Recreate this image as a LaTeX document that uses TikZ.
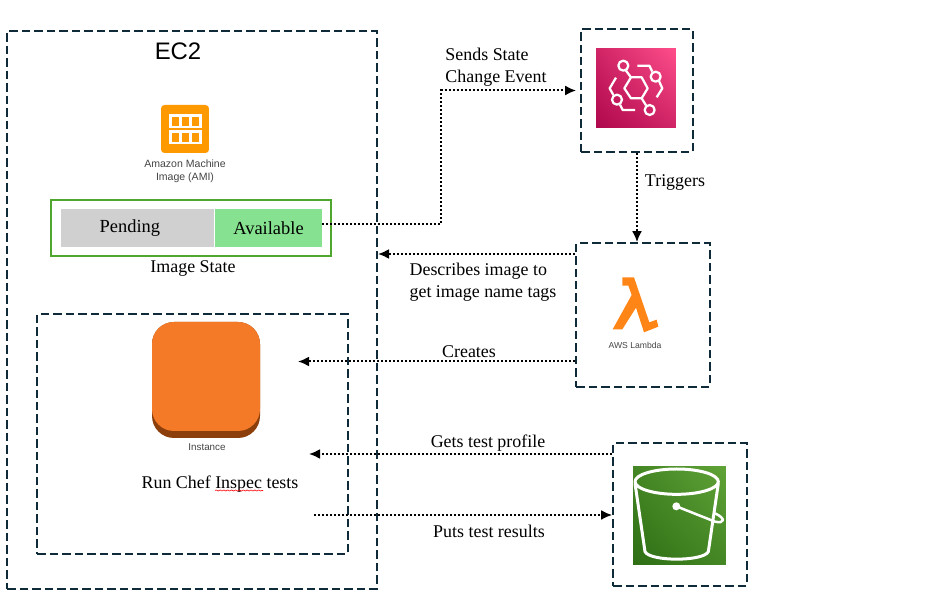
\documentclass[tikz,border=0pt]{standalone}
\usepackage{fontspec}
\setmainfont{Liberation Serif}
\newfontfamily\iconsans{Liberation Sans}
\usetikzlibrary{arrows.meta,decorations.pathmorphing,shadings}
\definecolor{boxline}{HTML}{0F2B3A}
\definecolor{amber}{HTML}{FF9900}
\definecolor{stategreen}{HTML}{4EA72E}
\definecolor{pendgrey}{HTML}{D0D0D0}
\definecolor{availgreen}{HTML}{86E290}
\definecolor{lambdaorange}{HTML}{FF8517}
\definecolor{ec2orange}{HTML}{F47A28}
\definecolor{ec2dark}{HTML}{8C3F0B}
\definecolor{pinklow}{HTML}{B0084D}
\definecolor{pinkhigh}{HTML}{FF4F8B}
\definecolor{s3low}{HTML}{2E6E15}
\definecolor{s3high}{HTML}{60A337}
\definecolor{icontext}{HTML}{444444}
\tikzset{
  dashbox/.style={draw=boxline,line width=0.035cm,dash pattern=on 0.17cm off 0.08cm,inner sep=0pt},
  flow/.style={-{Latex[length=2.2mm,width=2mm]},line width=0.04cm,dash pattern=on 0.04cm off 0.04cm,black},
  caption/.style={font=\fontsize{10.2}{12.5}\selectfont,inner sep=0pt,align=left},
  iconcap/.style={font=\iconsans\fontsize{6}{7.4}\selectfont,text=icontext,inner sep=0pt,align=center},
  statecell/.style={inner sep=0pt,minimum height=0.76cm,font=\fontsize{10.5}{12}\selectfont},
  glyph/.style={draw=white,line width=0.045cm,line join=round},
  amicell/.style={draw=white,line width=0.045cm},
}
\begin{document}
\begin{tikzpicture}[x=0.02cm,y=-0.02cm]
  \useasboundingbox (0,0) rectangle (927,607);
  \node[dashbox,minimum width=7.4cm,minimum height=11.16cm] (ec2) at (192,310) {};
  \node[dashbox,minimum width=2.24cm,minimum height=2.46cm] (bridge) at (637,90.5) {};
  \node[dashbox,minimum width=2.68cm,minimum height=2.88cm] (lambda) at (643,315) {};
  \node[dashbox,minimum width=2.68cm,minimum height=2.86cm] (s3) at (680,514.5) {};
  \node[dashbox,minimum width=6.22cm,minimum height=4.8cm] (inst) at (192.5,434) {};
  \node[draw=stategreen,line width=0.04cm,minimum width=5.6cm,minimum height=1.12cm,inner sep=0pt] (state) at (191,228) {};
  \node[statecell,fill=pendgrey,minimum width=3.06cm] (pend) at (137.5,228) {\raisebox{1.5pt}{\hspace{-8.6pt}Pending}};
  \node[statecell,fill=availgreen,minimum width=2.14cm] (avail) at (268.5,228.5) {\raisebox{-1pt}{Available}};
  \node[font=\iconsans\fontsize{13.6}{16}\selectfont,inner sep=0pt] (ec2name) at (178,51) {EC2};
  \node[caption] (statename) at (193,269) {Image State};
  \node[caption] (chef) at (220,484) {Run Chef Inspec tests};
  \draw[red,line width=0.012cm,decorate,decoration={snake,amplitude=0.3pt,segment length=2.2pt}] (215,490.5) -- (263,490.5);

  \node[fill=amber,rounded corners=2pt,minimum size=0.96cm,inner sep=0pt] (ami) at (185,129) {};
  \foreach \rowtop in {115.5,131.5}
    \foreach \colleft in {170.5,180.5,190.5}
      \draw[amicell] (\colleft,\rowtop) rectangle ++(10,11.5);
  \node[iconcap] (amicap) at (185,171) {Amazon Machine\\Image (AMI)};

  \fill[ec2dark,rounded corners=0.44cm] (152,322) rectangle (260,438);
  \fill[ec2orange,rounded corners=0.44cm] (152,322) rectangle (260,431);
  \node[iconcap,font=\iconsans\fontsize{5.6}{7}\selectfont] (instcap) at (207,447) {Instance};

  \node[caption] (sends) at (496,67) {Sends State\\Change Event};
  \node[caption] (trig) at (675,183) {Triggers};
  \node[caption] (desc) at (483,282) {Describes image to\\get image name tags};
  \node[caption] (creates) at (469,352) {Creates};
  \node[caption] (gets) at (488,443) {Gets test profile};
  \node[caption] (puts) at (489,531) {Puts test results};

  \node[minimum size=1.6cm,inner sep=0pt,lower left=pinklow,upper right=pinkhigh,lower right=pinklow!60!pinkhigh,upper left=pinklow!60!pinkhigh] (bridgeicon) at (636,88) {};
  \begin{scope}[shift={(570,20)},x=0.00667cm,y=-0.00667cm]
    \draw[glyph] (163,205) -- (183,172) -- (215,172) -- (233,205) -- (215,235) -- (183,235) -- cycle;
    \draw[glyph] (160,137) circle (15);
    \draw[glyph] (257,170) circle (15);
    \draw[glyph] (141,239) circle (15);
    \draw[glyph] (239,270) circle (15);
    \draw[glyph] (168,152) -- (183,172);
    \draw[glyph] (215,235) -- (228,256);
    \draw[glyph] (202,137) -- (238,137) -- (247,155);
    \draw[glyph] (267,183) -- (277,205) -- (260,232);
    \draw[glyph] (138,173) -- (119,205) -- (130,225);
    \draw[glyph] (150,254) -- (158,270) -- (195,270);
  \end{scope}

  \begin{scope}[shift={(570,235)},x=0.00667cm,y=-0.00667cm]
    \fill[lambdaorange] (157,127) -- (192,127) -- (238,262) -- (260,254) -- (265,275) -- (222,292) -- (198,218) -- (157,283) -- (128,283) -- (185,180) -- (175,152) -- (157,152) -- cycle;
  \end{scope}
  \node[iconcap,font=\iconsans\fontsize{4.9}{7}\selectfont] (lambdacap) at (635,345) {AWS Lambda};

  \node[minimum width=1.86cm,minimum height=1.98cm,inner sep=0pt,lower left=s3low,upper right=s3high,lower right=s3low!55!s3high,upper left=s3low!55!s3high] (s3icon) at (679.5,515.5) {};
  \begin{scope}[shift={(600,430)},x=0.00667cm,y=-0.00667cm]
    \draw[glyph,line width=0.06cm] (230,155) ellipse (125 and 38);
    \draw[glyph,line width=0.06cm] (105,160) -- (135,365) .. controls (150,395) and (310,395) .. (325,365) -- (355,160);
    \fill[white] (229,229) circle (12);
    \draw[glyph,line width=0.05cm] (229,229) -- (345,275) .. controls (375,282) and (378,265) .. (345,250);
  \end{scope}

  \coordinate (sendbend) at (441,90.5);
  \coordinate (descto) at (378,254);
  \coordinate (createto) at (298,361.5);
  \coordinate (getto) at (309,454);
  \coordinate (putfrom) at (314,515);
  \draw[flow,shorten >=0.08cm] ([yshift=0.09cm]avail.east) -| (sendbend) -- (bridge.west);
  \draw[flow] (bridge.south) -- (bridge.south |- lambda.north);
  \draw[flow] (lambda.west |- descto) -- (descto);
  \draw[flow] (lambda.west |- createto) -- (createto);
  \draw[flow] (s3.west |- getto) -- (getto);
  \draw[flow] (putfrom) -- (s3.west |- putfrom);
\end{tikzpicture}
\end{document}
